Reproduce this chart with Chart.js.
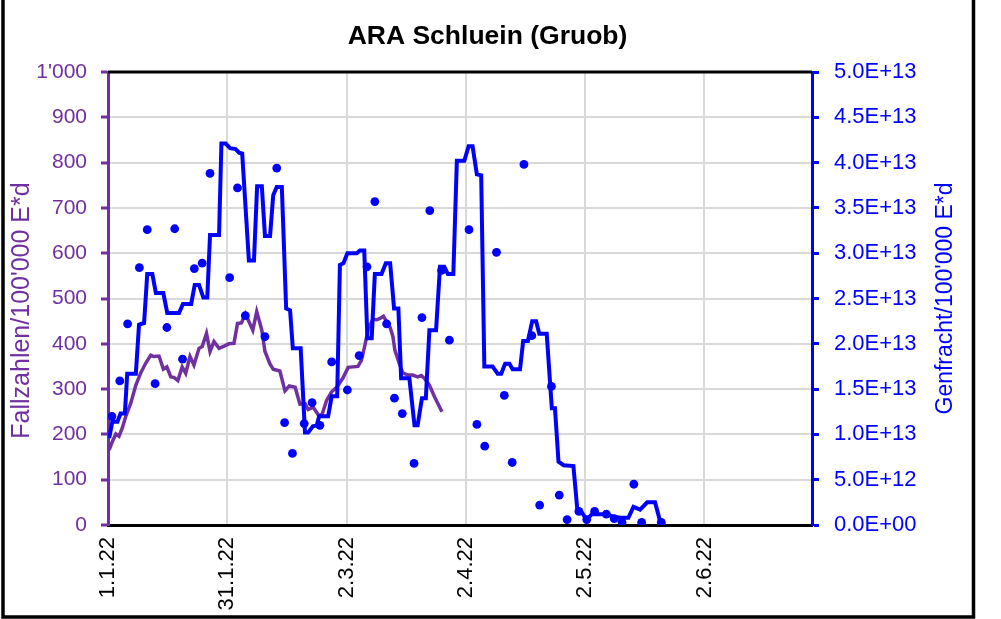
<!DOCTYPE html>
<html>
<head>
<meta charset="utf-8">
<script src="https://cdn.jsdelivr.net/npm/chart.js@4"></script>
<style>
  html, body { margin: 0; padding: 0; background: #fff; }
</style>
</head>
<body>
<canvas id="chart" width="1001" height="619"></canvas>
<script>
// x-Achse: Tage ab 1.1.22
const xTickLabels = ['1.1.22', '31.1.22', '2.3.22', '2.4.22', '2.5.22', '2.6.22'];

// Fallzahlen/100'000 E*d (linke Achse)
const fallTage = [0.3, 1.1, 2.0, 2.8, 3.6, 4.5, 5.8, 7.1, 8.3, 9.6, 10.9, 11.7, 13.0, 14.1, 15.0, 16.0, 16.8, 17.8,
  18.9, 19.8, 20.9, 21.9, 23.2, 24.0, 25.1, 26.0, 27.0, 28.3, 29.6, 30.8, 32.1, 33.0, 34.0, 35.0, 35.7, 36.9,
  37.9, 39.2, 40.0, 41.3, 42.1, 43.8, 45.1, 46.2, 47.7, 48.9, 50.2, 51.0, 52.3, 53.6, 54.5, 55.7, 57.0, 58.4,
  59.9, 61.2, 63.7, 64.6, 65.5, 66.3, 67.5, 68.5, 69.3, 70.2, 71.0, 71.9, 72.6, 73.1, 74.2, 75.1, 76.4, 77.6,
  78.9, 79.8, 80.6, 81.9, 83.2, 85.1];
const fallWerte = [166, 184, 201, 196, 213, 239, 269, 309, 335, 357, 375, 372, 373, 344, 349, 327, 326, 319,
  349, 335, 372, 353, 390, 394, 423, 383, 405, 390, 395, 400, 401, 445, 446, 466, 453, 430,
  471, 430, 383, 355, 344, 340, 296, 307, 304, 267, 268, 255, 260, 243, 243, 275, 294, 305,
  325, 348, 350, 364, 398, 432, 454, 453, 456, 461, 449, 436, 416, 386, 357, 336, 331, 331,
  327, 330, 324, 309, 283, 250];

// Genfracht/100'000 E*d, Linie (rechte Achse, Einheit 1E+13)
const frachtTage = [0.3, 1.1, 2.4, 3.2, 4.3, 4.9, 7.1, 7.9, 9.2, 10.0, 11.3, 12.2, 14.1, 15.1, 18.1, 19.1, 21.2,
  22.1, 23.2, 24.3, 25.3, 26.0, 28.3, 28.9, 30.0, 31.1, 32.5, 33.4, 34.2, 35.9, 37.2, 38.0, 39.2, 40.0, 41.3,
  42.1, 43.0, 44.3, 45.4, 46.4, 47.1, 49.1, 50.2, 51.0, 52.2, 53.2, 53.8, 56.1, 57.0, 58.4, 59.1, 60.0, 61.0,
  63.4, 64.2, 65.3, 66.1, 67.2, 68.0, 69.7, 70.8, 71.9, 72.9, 74.0, 74.7, 76.8, 78.1, 78.9, 80.0, 81.0, 81.9,
  83.6, 84.6, 85.7, 86.6, 88.0, 88.9, 90.8, 91.9, 92.9, 94.0, 95.1, 95.9, 98.0, 99.3, 100.2, 101.2, 102.3,
  103.1, 105.0, 105.8, 107.0, 108.1, 109.1, 109.9, 111.8, 113.1, 113.9, 114.8, 116.1, 118.6, 119.6, 120.7,
  122.0, 123.3, 127.1, 128.8, 130.5, 132.6, 133.9, 135.6, 137.4, 139.4, 140.7, 141.5];
const frachtWerte = [0.96, 1.14, 1.14, 1.23, 1.23, 1.67, 1.67, 2.21, 2.23, 2.77, 2.77, 2.56, 2.56, 2.34, 2.34, 2.44, 2.44,
  2.65, 2.65, 2.51, 2.51, 3.20, 3.20, 4.21, 4.21, 4.16, 4.15, 4.11, 4.10, 2.92, 2.92, 3.74, 3.74, 3.19, 3.19,
  3.64, 3.73, 3.73, 2.39, 2.37, 1.95, 1.95, 1.02, 1.02, 1.09, 1.10, 1.20, 1.20, 1.42, 1.42, 2.87, 2.89, 3.00,
  3.00, 3.03, 3.03, 2.06, 2.06, 2.77, 2.77, 2.89, 2.89, 2.39, 2.39, 1.62, 1.62, 1.10, 1.10, 1.40, 1.40, 2.15,
  2.15, 2.85, 2.85, 2.77, 2.77, 4.02, 4.02, 4.18, 4.18, 3.87, 3.86, 1.75, 1.75, 1.67, 1.67, 1.78, 1.78,
  1.72, 1.72, 2.03, 2.03, 2.25, 2.25, 2.11, 2.11, 1.29, 1.29, 0.70, 0.66, 0.65, 0.17, 0.14,
  0.06, 0.12, 0.12, 0.09, 0.08, 0.08, 0.20, 0.17, 0.25, 0.25, 0.04, 0.02];

// Genfracht Messwerte, Punkte (rechte Achse, Einheit 1E+13)
const messTage = [1, 3, 5, 8, 10, 12, 15, 17, 19, 22, 24, 26, 31, 33, 35, 40, 43, 45, 47, 50, 52, 54, 57, 61,
  64, 66, 68, 71, 73, 75, 78, 80, 82, 85, 87, 92, 94, 96, 99, 101, 103, 106, 108, 110, 113, 115, 117, 120,
  122, 124, 127, 129, 131, 134, 136, 141];
const messWerte = [1.20, 1.59, 2.22, 2.84, 3.26, 1.56, 2.18, 3.27, 1.83, 2.83, 2.89, 3.88, 2.73, 3.72, 2.31, 2.08,
  3.94, 1.13, 0.79, 1.12, 1.35, 1.10, 1.80, 1.49, 1.87, 2.85, 3.57, 2.22, 1.40, 1.23, 0.68, 2.29, 3.47, 2.81,
  2.04, 3.26, 1.11, 0.87, 3.01, 1.43, 0.69, 3.98, 2.09, 0.22, 1.53, 0.33, 0.06, 0.15, 0.06, 0.15, 0.12, 0.07,
  0.03, 0.45, 0.03, 0.03];

const E13 = 1e13;
const lila = '#7030A0';
const blau = '#0000FF';
const schrift = '"Liberation Sans", Arial, sans-serif';

const punkte = (tage, werte, f = 1) => tage.map((t, i) => ({ x: t, y: werte[i] * f }));

function expFormat(v) {
  const [m, e] = Number(v).toExponential(1).split('e');
  const n = Math.abs(parseInt(e, 10));
  return m + 'E' + (e[0] === '-' ? '-' : '+') + String(n).padStart(2, '0');
}

// Achsentitel und Rahmen
const extras = {
  id: 'extras',
  beforeDatasetsDraw(chart) {
    const { ctx, chartArea: a } = chart;
    ctx.save();
    ctx.strokeStyle = '#000';
    ctx.lineWidth = 3;
    ctx.beginPath();
    ctx.moveTo(a.left, a.top);
    ctx.lineTo(a.right, a.top);
    ctx.stroke();
    ctx.restore();
  },
  afterDraw(chart) {
    const { ctx, chartArea: a } = chart;
    const mitte = (a.top + a.bottom) / 2;
    ctx.save();
    ctx.font = '25px ' + schrift;
    ctx.textAlign = 'center';
    ctx.textBaseline = 'middle';
    ctx.fillStyle = lila;
    ctx.translate(a.left - 86, mitte + 12);
    ctx.rotate(-Math.PI / 2);
    ctx.fillText("Fallzahlen/100'000 E*d", 0, 0);
    ctx.restore();

    ctx.save();
    ctx.font = '23px ' + schrift;
    ctx.textAlign = 'center';
    ctx.textBaseline = 'middle';
    ctx.fillStyle = blau;
    ctx.translate(a.right + 134, mitte);
    ctx.rotate(-Math.PI / 2);
    ctx.fillText("Genfracht/100'000 E*d", 0, 0);
    ctx.restore();

    ctx.save();
    ctx.strokeStyle = '#000';
    ctx.lineWidth = 3.5;
    ctx.beginPath();
    ctx.moveTo(3, 0);
    ctx.lineTo(3, 617);
    ctx.lineTo(973.5, 617);
    ctx.lineTo(973.5, 0);
    ctx.stroke();
    ctx.restore();
  }
};

new Chart(document.getElementById('chart'), {
  type: 'line',
  data: {
    datasets: [{
      label: 'Genfracht Messwerte',
      data: punkte(messTage, messWerte, E13),
      yAxisID: 'yR',
      showLine: false,
      pointRadius: 4.4,
      pointBackgroundColor: blau,
      pointBorderWidth: 0,
      order: 1
    }, {
      label: 'Genfracht',
      data: punkte(frachtTage, frachtWerte, E13),
      yAxisID: 'yR',
      borderColor: blau,
      borderWidth: 4,
      pointRadius: 0,
      order: 2
    }, {
      label: 'Fallzahlen',
      data: punkte(fallTage, fallWerte),
      yAxisID: 'yL',
      borderColor: lila,
      borderWidth: 3.5,
      pointRadius: 0,
      order: 3
    }]
  },
  options: {
    responsive: false,
    animation: false,
    devicePixelRatio: 1,
    layout: { padding: { left: 0, right: 26, top: 0, bottom: 0 } },
    plugins: {
      legend: { display: false },
      tooltip: { enabled: false },
      title: {
        display: true,
        text: 'ARA Schluein (Gruob)',
        color: '#000',
        font: { family: schrift, size: 26.5, weight: 'bold', lineHeight: 1 },
        padding: { top: 23, bottom: 22.5 }
      }
    },
    scales: {
      x: {
        type: 'linear',
        min: 0,
        max: 179.4,
        afterBuildTicks: s => {
          const step = 152 / (xTickLabels.length - 1);
          s.ticks = xTickLabels.map((l, i) => ({ value: i * step }));
        },
        afterFit: s => { s.height = 94; },
        grid: { color: '#d9d9d9', lineWidth: 2, drawTicks: false },
        border: { color: '#000', width: 3 },
        ticks: {
          autoSkip: false,
          minRotation: 90,
          maxRotation: 90,
          padding: 12,
          color: '#000',
          font: { family: schrift, size: 22 },
          callback: (v, i) => xTickLabels[i]
        }
      },
      yL: {
        position: 'left',
        min: 0,
        max: 1000,
        afterFit: s => { s.width = 108; },
        grid: { color: '#d9d9d9', lineWidth: 2, tickColor: lila, tickLength: 7, tickWidth: 3 },
        border: { color: lila, width: 3 },
        ticks: {
          stepSize: 100,
          padding: 14,
          color: lila,
          font: { family: schrift, size: 21 },
          callback: v => String(v).replace(/\B(?=(\d{3})+(?!\d))/g, "'")
        }
      },
      yR: {
        position: 'right',
        min: 0,
        max: 5e13,
        afterFit: s => { s.width = 163; },
        grid: { drawOnChartArea: false, color: blau, tickColor: blau, tickLength: 7, tickWidth: 3 },
        border: { color: blau, width: 3 },
        ticks: {
          stepSize: 5e12,
          padding: 15,
          color: blau,
          font: { family: schrift, size: 22 },
          callback: v => expFormat(v)
        }
      }
    }
  },
  plugins: [extras]
});
</script>
</body>
</html>
